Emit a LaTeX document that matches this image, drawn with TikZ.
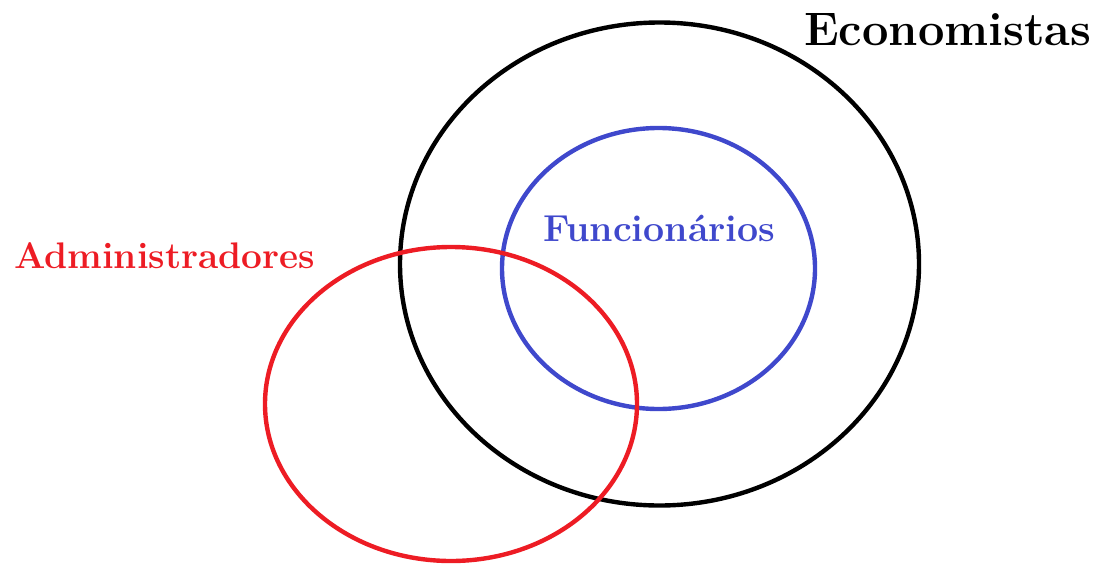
\documentclass[tikz,border=0pt]{standalone}
\usepackage{tikz}
\definecolor{setred}{RGB}{237,28,36}
\definecolor{setblue}{RGB}{63,72,204}
\tikzset{
  setline/.style={line width=4.4pt},
  setlabel/.style={anchor=base west, inner sep=0pt, font=\bfseries}
}
\begin{document}
\begin{tikzpicture}[x=1pt,y=-1pt]
\useasboundingbox (0,0) rectangle (1094,565);
\draw[setline, black] (659.5,264) ellipse [x radius=259.5pt, y radius=241.5pt];
\draw[setline, setblue] (658.5,268.5) ellipse [x radius=156.5pt, y radius=140.5pt];
\draw[setline, setred] (451,404) ellipse [x radius=186pt, y radius=157pt];
\node[setlabel, font=\bfseries\fontsize{47}{50}\selectfont, text=black] (eco) at (804,45) {Economistas};
\node[setlabel, font=\bfseries\fontsize{37}{40}\selectfont, text=setred] (adm) at (14,268) {Administradores};
\node[setlabel, font=\bfseries\fontsize{37.5}{40}\selectfont, text=setblue] (fun) at (543,241) {Funcionários};
\end{tikzpicture}
\end{document}
